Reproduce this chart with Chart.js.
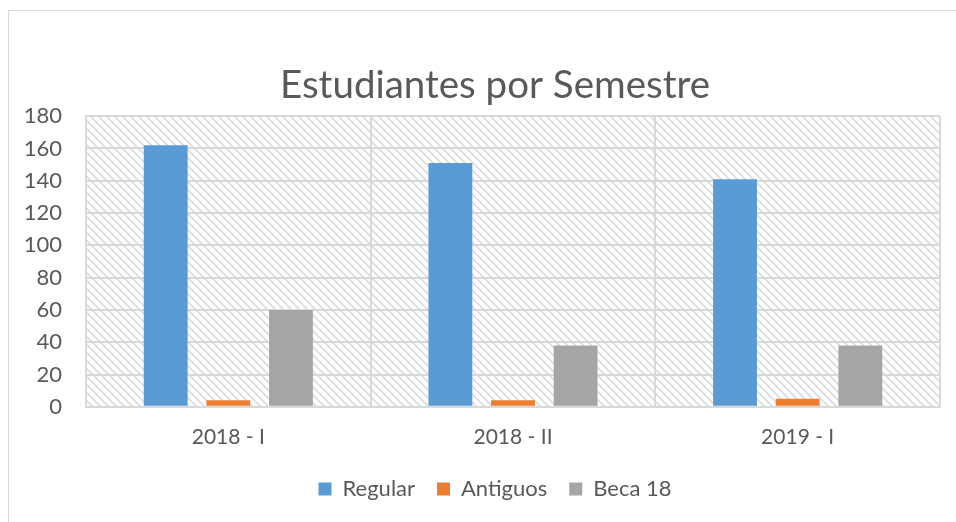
<!DOCTYPE html>
<html>
<head>
<meta charset="utf-8">
<script src="https://cdn.jsdelivr.net/npm/chart.js@4/dist/chart.umd.min.js"></script>
<style>
  html, body { margin: 0; padding: 0; background: #fff; }
  body { width: 956px; height: 522px; overflow: hidden; position: relative; }
  #frame { position: absolute; left: 8px; top: 10px; width: 1100px; height: 600px;
           border-left: 1px solid #d9d9d9; border-top: 1px solid #d9d9d9; }
  #wrap { position: absolute; left: 0; top: 0; width: 972px; height: 511px; }
</style>
</head>
<body>
<div id="frame"><div id="wrap"><canvas id="c"></canvas></div></div>
<script>
const categories = ['2018 - I', '2018 - II', '2019 - I'];
const regular = [162, 151, 141];
const antiguos = [4, 4, 5];
const beca18 = [60, 38, 38];
const yTicks = [0, 20, 40, 60, 80, 100, 120, 140, 160, 180];

const FONT = 'Lato, "Open Sans", sans-serif';
const TXT = '#595959';

function makePattern() {
  const s = 8;
  const c = document.createElement('canvas');
  c.width = s; c.height = s;
  const g = c.getContext('2d');
  g.fillStyle = '#ffffff';
  g.fillRect(0, 0, s, s);
  g.strokeStyle = '#dcdcdc';
  g.lineWidth = 1.6;
  g.beginPath();
  g.moveTo(-2, -2); g.lineTo(s + 2, s + 2);
  g.moveTo(-2, s - 2); g.lineTo(2, s + 2);
  g.moveTo(s - 2, -2); g.lineTo(s + 2, 2);
  g.stroke();
  return g.createPattern(c, 'repeat');
}

const bgPlugin = {
  id: 'hatch',
  beforeDraw(chart) {
    const {ctx, chartArea: a} = chart;
    ctx.save();
    ctx.fillStyle = makePattern();
    ctx.fillRect(a.left, a.top, a.right - a.left, a.bottom - a.top);
    ctx.restore();
  }
};

new Chart(document.getElementById('c'), {
  type: 'bar',
  data: {
    labels: categories,
    datasets: [
      { label: 'Regular', data: regular, backgroundColor: '#5B9BD5' },
      { label: 'Antiguos', data: antiguos, backgroundColor: '#ED7D31' },
      { label: 'Beca 18', data: beca18, backgroundColor: '#A5A5A5' }
    ]
  },
  options: {
    responsive: true,
    maintainAspectRatio: false,
    animation: false,
    datasets: { bar: { categoryPercentage: 0.66, barPercentage: 0.70 } },
    layout: { padding: { left: 0, right: 0, top: 0, bottom: 12 } },
    plugins: {
      title: {
        display: true,
        text: 'Estudiantes por Semestre',
        color: TXT,
        font: { family: FONT, size: 38.5, weight: 'normal' },
        padding: { top: 51, bottom: 8 }
      },
      legend: {
        position: 'bottom',
        labels: {
          color: TXT,
          font: { family: FONT, size: 22 },
          boxWidth: 13, boxHeight: 13,
          padding: 22
        }
      },
      tooltip: { enabled: false }
    },
    scales: {
      x: {
        afterFit(scale) { scale.height = scale.height - 12; },
        grid: { color: '#d9d9d9', lineWidth: 2, drawTicks: false, offset: true },
        border: { color: '#d9d9d9', width: 2 },
        ticks: { color: TXT, font: { family: FONT, size: 21 }, padding: 18 }
      },
      y: {
        min: 0, max: 180,
        afterFit(scale) { scale.width = 77; },
        afterBuildTicks(scale) { scale.ticks = yTicks.map(v => ({ value: v })); },
        grid: { color: '#d9d9d9', lineWidth: 2, drawTicks: false },
        border: { color: '#d9d9d9', width: 2 },
        ticks: { color: TXT, font: { family: FONT, size: 22 }, padding: 24 }
      },
      yRight: {
        position: 'right',
        min: 0, max: 180,
        afterFit(scale) { scale.width = 41; },
        grid: { display: false, drawTicks: false },
        border: { display: false },
        ticks: { display: false }
      }
    }
  },
  plugins: [bgPlugin]
});
</script>
</body>
</html>
